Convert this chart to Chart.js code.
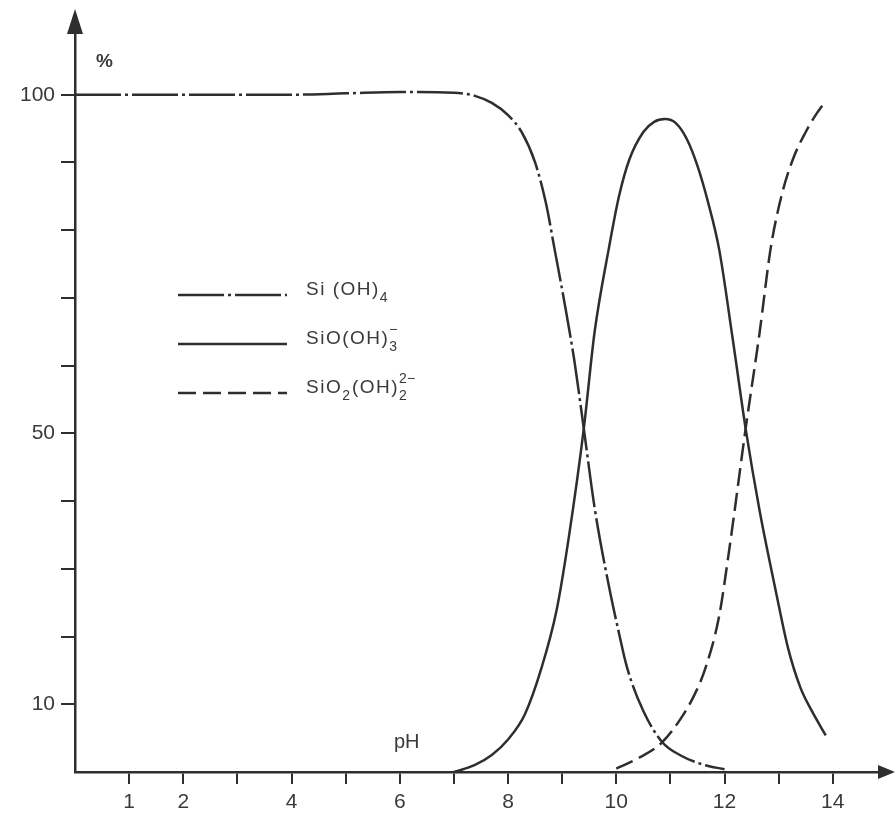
<!DOCTYPE html>
<html lang="en">
<head>
<meta charset="UTF-8">
<title>Silicic acid species vs pH</title>
<script src="https://cdn.jsdelivr.net/npm/chart.js"></script>
<style>
    body { margin: 0; background: #fff; }
    .chart-box { position: relative; width: 896px; height: 819px; }
</style>
</head>
<body>
<div class="chart-box"><canvas id="speciesChart"></canvas></div>
<script>
// axis ticks
const xTicks = [1, 2, 3, 4, 5, 6, 7, 8, 9, 10, 11, 12, 13, 14];
const xLabelled = [1, 2, 4, 6, 8, 10, 12, 14];
const yTicks = [10, 20, 30, 40, 50, 60, 70, 80, 90, 100];
const yLabelled = [10, 50, 100];

// Si(OH)4
const siOH4Ph  = [0, 1, 2, 3, 4, 5, 6, 7.0, 7.4, 7.7, 8.0, 8.25, 8.5, 8.7, 8.86, 9.05, 9.23, 9.4, 9.6, 9.86, 10.05, 10.2, 10.5, 10.85, 11.2, 11.6, 12.0];
const siOH4Pct = [100, 100, 100, 100, 100, 100.2, 100.4, 100.3, 99.8, 98.8, 97, 94.5, 90, 84, 77.2, 69, 60.5, 50.7, 39, 27.6, 20.5, 15.4, 9, 4.4, 2.4, 1.1, 0.4];

// SiO(OH)3-
const siOOH3Ph  = [7.0, 7.38, 7.7, 8.0, 8.31, 8.62, 8.9, 9.12, 9.4, 9.6, 9.86, 10.05, 10.24, 10.5, 10.7, 10.9, 11.1, 11.3, 11.5, 11.7, 11.9, 12.15, 12.39, 12.65, 12.94, 13.17, 13.4, 13.6, 13.87];
const siOOH3Pct = [0, 1, 2.5, 4.8, 8.5, 15.4, 24, 34.5, 50.7, 65, 77.2, 85, 90.4, 94.5, 96, 96.4, 95.8, 93.5, 89.5, 84, 77.2, 64, 50.7, 38.5, 27, 18.4, 12.5, 9.2, 5.4];

// SiO2(OH)2 2-
const siO2OH2Ph  = [10.0, 10.4, 10.85, 11.2, 11.45, 11.65, 11.9, 12.09, 12.39, 12.65, 12.85, 13.05, 13.26, 13.5, 13.7, 13.86];
const siO2OH2Pct = [0.5, 2, 4.4, 8, 11.5, 15.4, 23, 33, 50.7, 65, 77.2, 85, 90.4, 94.5, 97.2, 99];

// legend text pieces: base text, subscript, stacked superscript
const legendLabels = [
    [{ t: 'Si (OH)' }, { sub: '4' }],
    [{ t: 'SiO(OH)' }, { sub: '3', sup: '\u2212' }],
    [{ t: 'SiO' }, { sub: '2' }, { t: '(OH)' }, { sub: '2', sup: '2\u2212' }]
];

const ink = '#2e2e2e';
const textInk = '#3a3a3a';
const fontFamily = '"Liberation Sans", Arial, sans-serif';

function toPoints(xs, ys) {
    return xs.map((x, i) => ({ x: x, y: ys[i] }));
}

const decorations = {
    id: 'decorations',
    afterDraw(chart) {
        const ctx = chart.ctx;
        const area = chart.chartArea;
        ctx.save();
        ctx.fillStyle = ink;

        // arrow on y axis
        ctx.beginPath();
        ctx.moveTo(area.left, 9);
        ctx.lineTo(area.left - 8, 34);
        ctx.lineTo(area.left + 8, 34);
        ctx.closePath();
        ctx.fill();
        // arrow on x axis
        ctx.beginPath();
        ctx.moveTo(895, area.bottom);
        ctx.lineTo(878, area.bottom - 7);
        ctx.lineTo(878, area.bottom + 7);
        ctx.closePath();
        ctx.fill();

        // axis names
        ctx.fillStyle = textInk;
        ctx.textBaseline = 'alphabetic';
        ctx.font = 'bold 19px ' + fontFamily;
        ctx.fillText('%', 96, 67);
        ctx.font = '20px ' + fontFamily;
        ctx.fillText('pH', 394, 748);

        // legend
        const lineX0 = 178, lineX1 = 287, textX = 306;
        const rowsY = [295, 344, 393];
        chart.data.datasets.forEach((ds, i) => {
            const y = rowsY[i];
            ctx.strokeStyle = ds.borderColor;
            ctx.lineWidth = ds.borderWidth;
            ctx.setLineDash(ds.borderDash || []);
            ctx.beginPath();
            ctx.moveTo(lineX0, y);
            ctx.lineTo(lineX1, y);
            ctx.stroke();
            ctx.setLineDash([]);

            let x = textX;
            legendLabels[i].forEach(part => {
                if (part.t) {
                    ctx.font = '19px ' + fontFamily;
                    ctx.letterSpacing = '1.5px';
                    ctx.fillText(part.t, x, y);
                    x += ctx.measureText(part.t).width;
                } else {
                    ctx.font = '14px ' + fontFamily;
                    ctx.letterSpacing = '0px';
                    let w = ctx.measureText(part.sub).width;
                    ctx.fillText(part.sub, x, y + 7);
                    if (part.sup) {
                        ctx.fillText(part.sup, x, y - 10);
                        w = Math.max(w, ctx.measureText(part.sup).width);
                    }
                    x += w + 2;
                }
            });
        });
        ctx.restore();
    }
};

new Chart(document.getElementById('speciesChart'), {
    type: 'line',
    data: {
        datasets: [{
            label: 'Si(OH)4',
            data: toPoints(siOH4Ph, siOH4Pct),
            borderColor: ink,
            borderWidth: 2.5,
            borderDash: [46, 4, 3, 4]
        }, {
            label: 'SiO(OH)3-',
            data: toPoints(siOOH3Ph, siOOH3Pct),
            borderColor: ink,
            borderWidth: 2.5
        }, {
            label: 'SiO2(OH)2 2-',
            data: toPoints(siO2OH2Ph, siO2OH2Pct),
            borderColor: ink,
            borderWidth: 2.5,
            borderDash: [18, 7]
        }]
    },
    options: {
        responsive: true,
        maintainAspectRatio: false,
        animation: false,
        layout: { padding: { top: 27, right: 8, left: 0, bottom: 0 } },
        elements: {
            point: { radius: 0 },
            line: { cubicInterpolationMode: 'monotone', fill: false }
        },
        plugins: {
            legend: { display: false },
            tooltip: { enabled: false }
        },
        scales: {
            x: {
                type: 'linear',
                min: 0,
                max: 15.02,
                afterBuildTicks: scale => { scale.ticks = xTicks.map(v => ({ value: v })); },
                afterFit: scale => { scale.height = 47; },
                border: { display: true, color: ink, width: 2.5 },
                grid: { drawOnChartArea: false, drawTicks: true, tickLength: 12, color: ink, lineWidth: 2 },
                ticks: {
                    padding: 6,
                    color: textInk,
                    font: { family: fontFamily, size: 21 },
                    maxRotation: 0,
                    autoSkip: false,
                    callback: v => xLabelled.includes(v) ? String(v) : ''
                }
            },
            y: {
                min: 0,
                max: 110,
                afterBuildTicks: scale => { scale.ticks = yTicks.map(v => ({ value: v })); },
                afterFit: scale => { scale.width = 75; },
                border: { display: true, color: ink, width: 2.5 },
                grid: { drawOnChartArea: false, drawTicks: true, tickLength: 14, color: ink, lineWidth: 2 },
                ticks: {
                    padding: 6,
                    color: textInk,
                    font: { family: fontFamily, size: 21 },
                    autoSkip: false,
                    callback: v => yLabelled.includes(v) ? String(v) : ''
                }
            }
        }
    },
    plugins: [decorations]
});
</script>
</body>
</html>
